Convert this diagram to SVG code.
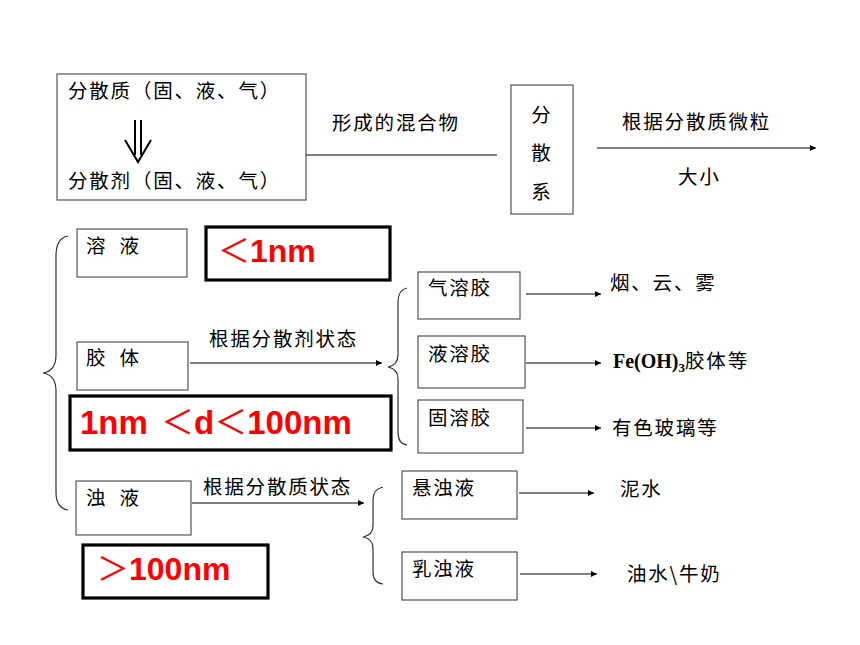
<svg xmlns="http://www.w3.org/2000/svg" width="860" height="645" viewBox="0 0 860 645">
  <style>
    .box { fill: #ffffff; stroke: #555555; stroke-width: 1.2; }
    .tbox { fill: #ffffff; stroke: #000000; stroke-width: 3.2; }
    .t { font-family: "Noto Sans CJK SC", "Liberation Sans", sans-serif; font-size: 19.5px; letter-spacing: 1.8px; fill: #000000; }
    .red { font-family: "Liberation Sans", "Noto Sans CJK SC", sans-serif; font-weight: bold; fill: #ff0000; }
    .thin { font-family: "Noto Sans CJK SC", sans-serif; font-weight: normal; }
    .ln { stroke: #000000; stroke-width: 1.2; fill: none; }
    .arr { stroke: #000000; stroke-width: 1.2; fill: none; marker-end: url(#ah); }
    .brace { stroke: #333333; stroke-width: 1.2; fill: none; }
  </style>
  <defs>
    <marker id="ah" viewBox="0 0 10 10" refX="10" refY="5" markerWidth="8" markerHeight="6" markerUnits="userSpaceOnUse" orient="auto">
      <path d="M0,0 L10,5 L0,10 Z" fill="#000000"/>
    </marker>
  </defs>
  <rect width="860" height="645" fill="#ffffff"/>

  <g id="connectors">
    <line class="ln" x1="306" y1="155" x2="497" y2="155"/>
    <line class="arr" x1="597" y1="148" x2="816" y2="148"/>
    <line class="arr" x1="190" y1="363" x2="382" y2="363"/>
    <line class="arr" x1="192" y1="503" x2="364" y2="503"/>
    <line class="arr" x1="526" y1="294" x2="601" y2="294"/>
    <line class="arr" x1="526" y1="363" x2="601" y2="363"/>
    <line class="arr" x1="526" y1="428" x2="601" y2="428"/>
    <line class="arr" x1="519" y1="493" x2="594" y2="493"/>
    <line class="arr" x1="520" y1="574" x2="597" y2="574"/>
    <path class="brace" d="M68,236 Q56,238 56,256 L56,355 Q56,371 43,373 Q56,375 56,391 L56,492 Q56,508 68,510"/>
    <path class="brace" d="M407,288 Q398,290 398,302 L398,355 Q398,365 388,367 Q398,369 398,379 L398,432 Q398,444 407,445"/>
    <path class="brace" d="M383,487 Q373,489 373,500 L373,526 Q373,535 363,537 Q373,539 373,548 L373,572 Q373,583 383,584"/>
  </g>

  <g id="labels">
    <text class="t" x="332" y="130">形成的混合物</text>
    <text class="t" x="622" y="129">根据分散质微粒</text>
    <text class="t" x="678" y="184">大小</text>
    <text class="t" x="209" y="346">根据分散剂状态</text>
    <text class="t" x="203" y="494">根据分散质状态</text>
  </g>

  <g id="node-source">
    <rect class="box" x="57" y="74" width="249" height="126"/>
    <text class="t" x="68" y="98">分散质（固、液、气）</text>
    <path d="M135,120 L135,155 M141,120 L141,155 M125,140 L138,162 L151,140" stroke="#000000" stroke-width="2" fill="none"/>
    <text class="t" x="68" y="188">分散剂（固、液、气）</text>
  </g>

  <g id="node-system">
    <rect class="box" x="511" y="85" width="62" height="129"/>
    <text class="t" x="542" y="122" text-anchor="middle" letter-spacing="0">分</text>
    <text class="t" x="542" y="160" text-anchor="middle" letter-spacing="0">散</text>
    <text class="t" x="542" y="199" text-anchor="middle" letter-spacing="0">系</text>
  </g>

  <g id="node-solution">
    <rect class="box" x="77" y="229" width="110" height="48"/>
    <text class="t" x="86" y="253" word-spacing="6">溶 液</text>
  </g>
  <g id="size-solution">
    <rect class="tbox" x="206" y="227" width="184" height="53"/>
    <text class="red" x="218" y="262" font-size="32"><tspan class="thin">＜</tspan>1nm</text>
  </g>

  <g id="node-colloid">
    <rect class="box" x="77" y="342" width="111" height="48"/>
    <text class="t" x="86" y="365" word-spacing="6">胶 体</text>
  </g>
  <g id="size-colloid">
    <rect class="tbox" x="70" y="396" width="321" height="54"/>
    <text class="red" x="80" y="434" font-size="33" word-spacing="4">1nm <tspan class="thin">＜</tspan>d<tspan class="thin">＜</tspan>100nm</text>
  </g>

  <g id="node-turbid">
    <rect class="box" x="76" y="481" width="115" height="54"/>
    <text class="t" x="86" y="505" word-spacing="6">浊 液</text>
  </g>
  <g id="size-turbid">
    <rect class="tbox" x="83" y="545" width="185" height="53"/>
    <text class="red" x="97" y="580" font-size="32"><tspan class="thin">＞</tspan>100nm</text>
  </g>

  <g id="node-aerosol">
    <rect class="box" x="418" y="272" width="102" height="47"/>
    <text class="t" x="428" y="295">气溶胶</text>
  </g>
  <g id="node-liquisol">
    <rect class="box" x="418" y="336" width="107" height="52"/>
    <text class="t" x="428" y="361">液溶胶</text>
  </g>
  <g id="node-solidsol">
    <rect class="box" x="418" y="400" width="105" height="53"/>
    <text class="t" x="428" y="425">固溶胶</text>
  </g>
  <g id="node-suspension">
    <rect class="box" x="402" y="471" width="115" height="48"/>
    <text class="t" x="412" y="495">悬浊液</text>
  </g>
  <g id="node-emulsion">
    <rect class="box" x="402" y="552" width="115" height="48"/>
    <text class="t" x="412" y="576">乳浊液</text>
  </g>

  <g id="examples">
    <text class="t" x="610" y="290">烟、云、雾</text>
    <text x="613" y="368" font-family="Liberation Serif, serif" font-weight="bold" font-size="20">Fe(OH)<tspan font-size="13" dy="4">3</tspan><tspan class="t" dy="-4" font-weight="normal">胶体等</tspan></text>
    <text class="t" x="612" y="435">有色玻璃等</text>
    <text class="t" x="620" y="496">泥水</text>
    <text class="t" x="627" y="581">油水\牛奶</text>
  </g>
</svg>
